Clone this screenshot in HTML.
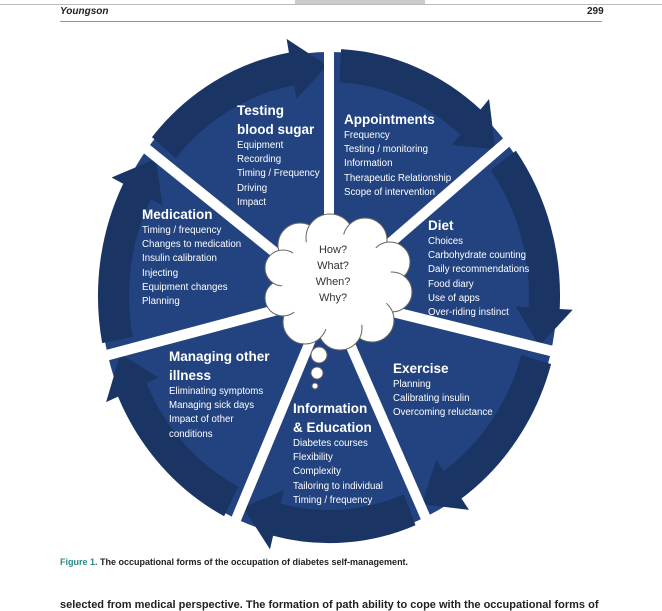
<!DOCTYPE html>
<html><head><meta charset="utf-8"><style>
body{margin:0;background:#fff;width:662px;height:604px;overflow:hidden;position:relative;font-family:"Liberation Sans",sans-serif}
.t{position:absolute;color:#fff;font-size:9.7px;line-height:14.2px;white-space:nowrap}
.t b{display:block;font-size:13.5px;line-height:19px}
</style></head><body>
<div style="position:absolute;left:295px;top:0;width:130px;height:4px;background:#ccc"></div>
<div style="position:absolute;left:0;top:4px;width:662px;height:1px;background:#bbb"></div>
<div style="position:absolute;left:60px;top:6px;font-size:10px;font-weight:bold;font-style:italic;color:#222">Youngson</div>
<div style="position:absolute;left:587px;top:6px;font-size:10px;font-weight:bold;color:#222">299</div>
<div style="position:absolute;left:60px;top:21px;width:542px;height:1px;background:#6a9"></div>
<svg id="s" width="662" height="604" style="position:absolute;left:0;top:0"></svg>
<div class="t" style="left:237px;top:101px"><b>Testing</b><b>blood sugar</b>Equipment<br>Recording<br>Timing / Frequency<br>Driving<br>Impact</div>
<div class="t" style="left:344px;top:110px"><b>Appointments</b>Frequency<br>Testing / monitoring<br>Information<br>Therapeutic Relationship<br>Scope of intervention</div>
<div class="t" style="left:428px;top:216px"><b>Diet</b>Choices<br>Carbohydrate counting<br>Daily recommendations<br>Food diary<br>Use of apps<br>Over-riding instinct</div>
<div class="t" style="left:142px;top:205px"><b>Medication</b>Timing / frequency<br>Changes to medication<br>Insulin calibration<br>Injecting<br>Equipment changes<br>Planning</div>
<div class="t" style="left:169px;top:347px"><b>Managing other</b><b>illness</b>Eliminating symptoms<br>Managing sick days<br>Impact of other<br>conditions</div>
<div class="t" style="left:293px;top:399px"><b>Information</b><b>&amp; Education</b>Diabetes courses<br>Flexibility<br>Complexity<br>Tailoring to individual<br>Timing / frequency</div>
<div class="t" style="left:393px;top:359px"><b>Exercise</b>Planning<br>Calibrating insulin<br>Overcoming reluctance</div>
<div style="position:absolute;left:300px;top:242px;width:66px;text-align:center;font-size:11px;line-height:16px;color:#333">How?<br>What?<br>When?<br>Why?</div>
<div style="position:absolute;left:60px;top:557px;font-size:9px;font-weight:bold;color:#222"><span style="color:#2a8a8a">Figure 1.</span> The occupational forms of the occupation of diabetes self-management.</div>
<div style="position:absolute;left:60px;top:599px;font-size:11px;font-weight:bold;color:#222;white-space:nowrap">selected from medical perspective. The formation of path ability to cope with the occupational forms of</div>
<script>
var cx=329,cy=296,R=228,s='';
var A=[-90,-39,13,65,114,166,217];
function P(r,a){a=a*Math.PI/180;return (cx+r*Math.cos(a)).toFixed(1)+','+(cy+r*Math.sin(a)).toFixed(1);}
s+='<g transform="translate('+cx+','+cy+') scale(1,1.07) translate('+(-cx)+','+(-cy)+')">';
s+='<circle cx="'+cx+'" cy="'+cy+'" r="'+R+'" fill="#22437f"/>';
for(var i=0;i<7;i++){var a0=A[i]+3,a1=A[(i+1)%7]+(i==6?360:0);var hb=a1-10,tip=a1-0.5;
var r1=200,r2=231;
s+='<path d="M'+P(r2,a0)+' A'+r2+','+r2+' 0 0 1 '+P(r2,hb)+' L'+P(244,hb)+' L'+P((r1+r2)/2,tip)+' L'+P(187,hb)+' L'+P(r1,hb)+' A'+r1+','+r1+' 0 0 0 '+P(r1,a0)+'Z" fill="#1a3464"/>';}
for(var i=0;i<7;i++){var e=P(250,A[i]).split(',');s+='<line x1="'+cx+'" y1="'+cy+'" x2="'+e[0]+'" y2="'+e[1]+'" stroke="#fff" stroke-width="10"/>';}
s+='</g>';
var cl=[[300,245,22],[330,238,24],[365,240,22],[390,262,20],[392,292,20],[372,320,22],[340,328,22],[305,322,22],[283,298,18],[283,268,18]];
cl.forEach(function(c){s+='<circle cx="'+c[0]+'" cy="'+c[1]+'" r="'+c[2]+'" fill="#fff" stroke="#666" stroke-width="1"/>';});
s+='<ellipse cx="337" cy="282" rx="55" ry="48" fill="#fff"/>';
s+='<circle cx="319" cy="355" r="8" fill="#fff" stroke="#666"/><circle cx="317" cy="373" r="6" fill="#fff" stroke="#666"/><circle cx="315" cy="386" r="3" fill="#fff" stroke="#666"/>';
document.getElementById('s').innerHTML=s;
</script>
</body></html>
